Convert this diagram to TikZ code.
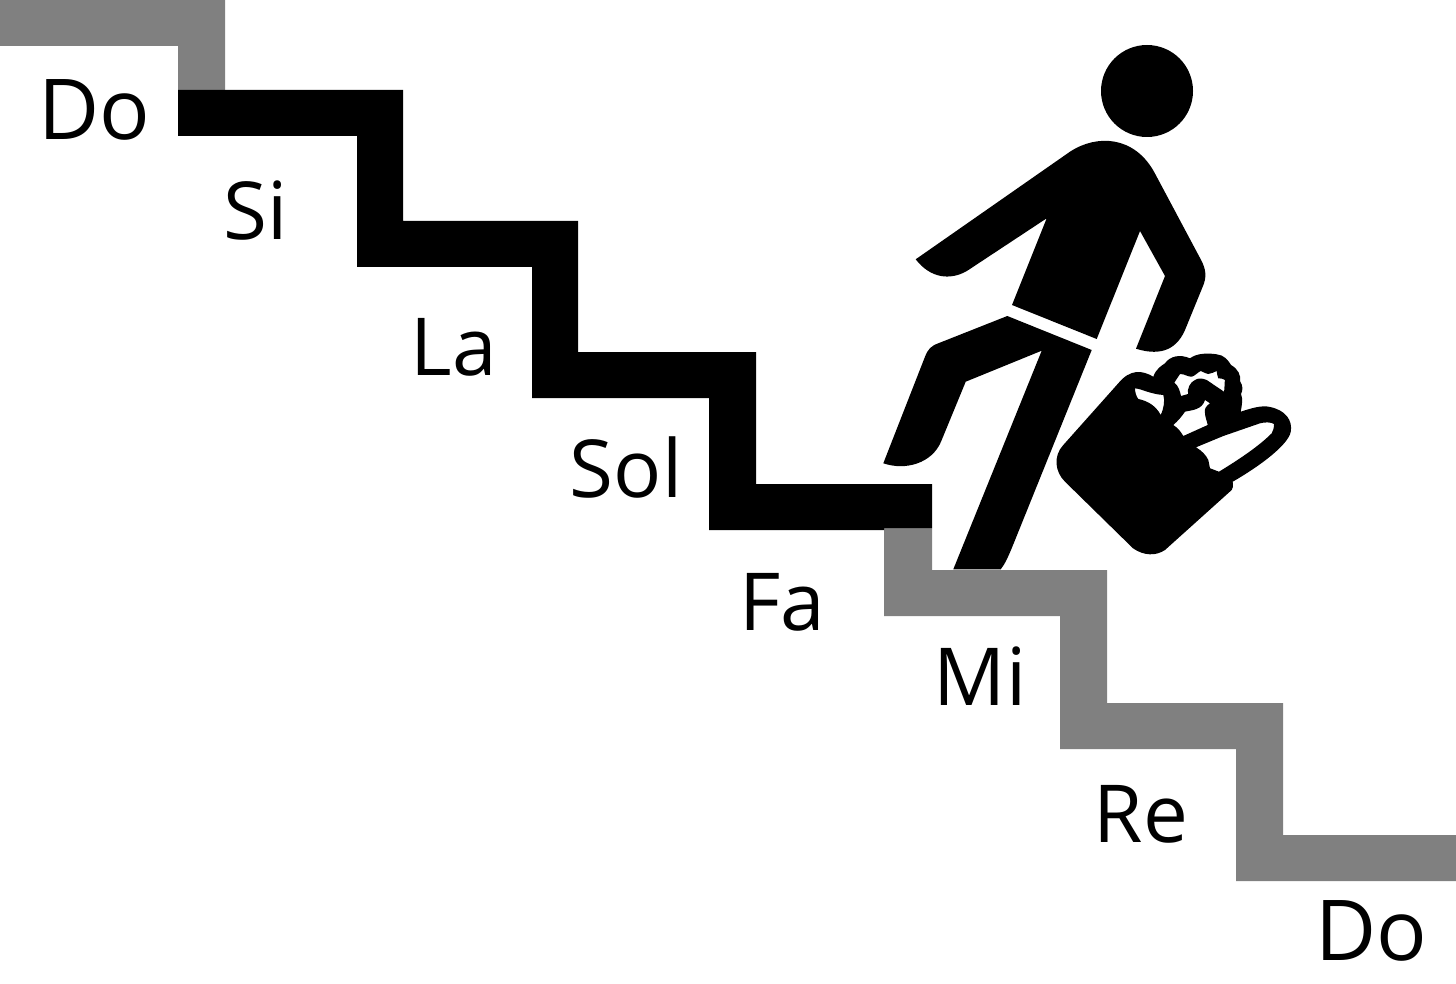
\documentclass[tikz,border=0pt]{standalone}
\usepackage{fontspec}
\setmainfont{Open Sans}
\definecolor{stairgrey}{RGB}{128,128,128}
\tikzset{
  solfa/.style={anchor=base,inner sep=0pt,font=\fontsize{60}{60}\selectfont},
  solfabig/.style={solfa,font=\fontsize{63}{63}\selectfont},
}
\begin{document}
\begin{tikzpicture}[x=0.75pt,y=0.75pt,yscale=-1,xscale=1]
\useasboundingbox (0,0) rectangle (1456,984);
% Grey stairs
\fill [stairgrey] (0,0) -- (225,0) -- (225,92) -- (178,92) -- (178,46) -- (0,46) -- cycle ;
\fill [stairgrey] (884,528) -- (932,528) -- (932,570) -- (1107,570) -- (1107,703) -- (1283,703) -- (1283,835) -- (1456,835) -- (1456,881) -- (1236,881) -- (1236,749) -- (1060,749) -- (1060,616) -- (884,616) -- cycle ;
% Black stairs
\fill (178,90) -- (403,90) -- (403,221) -- (578,221) -- (578,352) -- (756,352) -- (756,484) -- (932,484) -- (932,528) -- (884,528) -- (884,530) -- (709,530) -- (709,398) -- (532,398) -- (532,267) -- (357,267) -- (357,136) -- (178,136) -- cycle ;
% Head
\fill (1147,91) circle [radius=46] ;
% Torso and arms
\fill (915.7,259.3) -- (1070,151.7) .. controls (1097,134) and (1134,136) .. (1154,171.7) -- (1200.7,259.3) .. controls (1206,269) and (1207,277) .. (1202.7,286.7) -- (1185,330) .. controls (1175,353) and (1156,355) .. (1136,348.7) -- (1165,276) -- (1140,231) -- (1096.7,339) -- (1012,305) -- (1046.7,218.3) -- (967.3,270.7) .. controls (950,281) and (930,278) .. (915.7,259.3) -- cycle ;
% Leg
\fill (1007.3,316) -- (1091.7,350) -- (1011.7,548.3) .. controls (1008,557) and (1005,564) .. (1000.7,569.3) -- (953.3,569.3) -- (1041.7,350.7) -- (965.7,381.7) -- (941,441.7) .. controls (932,463) and (906,471) .. (883.3,463.3) -- (925,356.7) .. controls (928,349) and (931,346) .. (938.3,343.3) -- cycle ;
% Bag
\fill [even odd rule] (1063.3,445) -- (1118.3,383.3) .. controls (1130,369) and (1142,370) .. (1153.3,376.7) .. controls (1156,369) and (1161,366) .. (1165,363.3) .. controls (1170,356) and (1180,354) .. (1190,358.3) .. controls (1197,353) and (1208,353) .. (1216.7,354.3) .. controls (1224,355) and (1228,360) .. (1231,365) .. controls (1238,369) and (1241,375) .. (1240,381) .. controls (1243,386) and (1243,390) .. (1241,394) .. controls (1243,399) and (1242,405) .. (1240.7,411.7) .. controls (1252,408) and (1262,405) .. (1270,407) .. controls (1285,410) and (1293,420) .. (1290.7,432) .. controls (1288,445) and (1260,466) .. (1232.7,481.7) .. controls (1233,486) and (1233,489) .. (1231.7,490) -- (1165,550) .. controls (1156,556) and (1144,556) .. (1133,548.3) -- (1065,481.7) .. controls (1055,472) and (1053,456) .. (1063.3,445) -- cycle
  (1135,388.3) .. controls (1142,389) and (1150,394) .. (1163.3,395) .. controls (1165,400) and (1164,408) .. (1160.7,415) .. controls (1156,406) and (1148,401) .. (1138.3,399) .. controls (1136,396) and (1135,392) .. (1135,388.3) -- cycle
  (1180,374) .. controls (1185,374) and (1188,377) .. (1191.7,376.7) .. controls (1195,376) and (1198,372) .. (1200.7,371) .. controls (1204,372) and (1206,374) .. (1208,374) .. controls (1211,374) and (1214,372) .. (1216.7,371) .. controls (1217,375) and (1218,377) .. (1218.3,378.3) .. controls (1221,378) and (1223,379) .. (1225,380) .. controls (1224,384) and (1225,388) .. (1224,391.7) -- (1206.7,380) .. controls (1202,378) and (1198,378) .. (1195,380) .. controls (1190,382) and (1187,389) .. (1188,394) -- (1181,396) .. controls (1180,391) and (1178,385) .. (1174.3,382.7) .. controls (1176,380) and (1178,377) .. (1180,374) -- cycle
  (1205,400) -- (1210,403.3) .. controls (1206,406) and (1204,409) .. (1205,413.3) .. controls (1205,417) and (1207,421) .. (1207.7,425) -- (1183.3,436) .. controls (1181,432) and (1178,428) .. (1173.3,425) .. controls (1178,421) and (1182,416) .. (1185,411.7) .. controls (1192,410) and (1202,410) .. (1205,400) -- cycle
  (1196,447.3) -- (1223.3,436) -- (1260,423.3) .. controls (1265,422) and (1271,422) .. (1274,424) .. controls (1274,428) and (1273,431) .. (1271.7,433.3) .. controls (1258,447) and (1238,460) .. (1219,471.7) -- (1210,468.3) .. controls (1209,465) and (1209,462) .. (1208.3,460) .. controls (1206,455) and (1202,451) .. (1196,447.3) -- cycle ;
% Text Nodes
\node (doTop) [solfabig] at (94,140) {Do};
\node (si) [solfa] at (256,240) {Si};
\node (la) [solfa] at (454,375) {La};
\node (sol) [solfa] at (626,497) {Sol};
\node (fa) [solfa] at (782,630) {Fa};
\node (mi) [solfa] at (980,705) {Mi};
\node (re) [solfa] at (1141,842) {Re};
\node (doBottom) [solfabig] at (1371,960) {Do};
\end{tikzpicture}
\end{document}
